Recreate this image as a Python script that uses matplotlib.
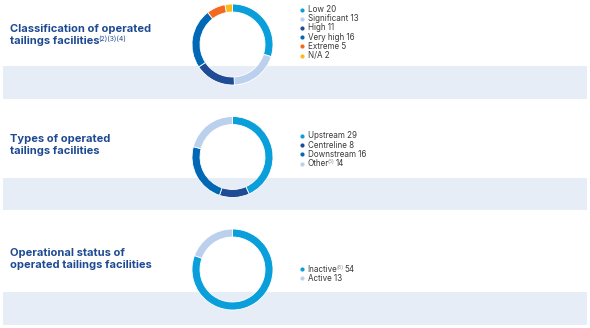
import matplotlib
matplotlib.use("Agg")
import matplotlib.pyplot as plt
from matplotlib.patches import Rectangle

plt.rcParams['font.family'] = ['Inter', 'DejaVu Sans']

W, H = 590, 328

# data
class_labels = ["Low", "Significant", "High", "Very high", "Extreme", "N/A"]
class_values = [20, 13, 11, 16, 5, 2]
class_notes = ["", "", "", "", "", ""]
class_colors = ["#0A9FDB", "#BBD0EC", "#1F4C94", "#0068B4", "#F2691F", "#FDBB17"]

type_labels = ["Upstream", "Centreline", "Downstream", "Other"]
type_values = [29, 8, 16, 14]
type_notes = ["", "", "", "(5)"]
type_colors = ["#0A9FDB", "#1F4C94", "#0068B4", "#BBD0EC"]

status_labels = ["Inactive", "Active"]
status_values = [54, 13]
status_notes = ["(6)", ""]
status_colors = ["#0A9FDB", "#BBD0EC"]

titles = [
    ["Classification of operated", "tailings facilities"],
    ["Types of operated", "tailings facilities"],
    ["Operational status of", "operated tailings facilities"],
]
title_notes = ["(2)(3)(4)", "", ""]

title_color = "#1E4A92"
band_color = "#E6EDF7"
text_color = "#3A3A3A"

fig = plt.figure(figsize=(W / 100, H / 100), dpi=100)
ax = fig.add_axes([0, 0, 1, 1])
ax.set_xlim(0, W)
ax.set_ylim(H, 0)
ax.axis("off")
renderer = fig.canvas.get_renderer()


def right_edge(t):
    bb = t.get_window_extent(renderer=renderer)
    return ax.transData.inverted().transform((bb.x1, bb.y0))[0]


# layout per row: band top/bottom, donut centre y, title y, legend first y
rows = [
    dict(band=(66, 99), cy=44.5, ty=28.5, ly=9.5),
    dict(band=(178, 210), cy=157, ty=139, ly=136),
    dict(band=(292, 325), cy=269.5, ty=253, ly=269),
]
datasets = [
    (class_labels, class_values, class_notes, class_colors),
    (type_labels, type_values, type_notes, type_colors),
    (status_labels, status_values, status_notes, status_colors),
]

cx, r, ring = 232.5, 40.5, 8
for row, (labels, values, notes, colors), title, tnote in zip(rows, datasets, titles, title_notes):
    b0, b1 = row["band"]
    ax.add_patch(Rectangle((3, b0), 584, b1 - b0, color=band_color, lw=0, zorder=0))

    cy = row["cy"]
    dax = fig.add_axes([(cx - r) / W, 1 - (cy + r) / H, 2 * r / W, 2 * r / H])
    dax.pie(values, colors=colors, startangle=90, counterclock=False,
            wedgeprops=dict(width=ring / r, edgecolor="white", linewidth=0.6))
    dax.set_xlim(-1, 1)
    dax.set_ylim(-1, 1)
    dax.set_aspect("auto")
    dax.axis("off")

    ty = row["ty"]
    ax.text(10, ty, title[0], fontsize=8.0, fontweight="bold", color=title_color,
            va="center", ha="left")
    t2 = ax.text(10, ty + 12.5, title[1], fontsize=8.0, fontweight="bold", color=title_color,
                 va="center", ha="left")
    if tnote:
        ax.text(right_edge(t2) - 1.5, ty + 9.8, tnote, fontsize=5.0, color=title_color,
                va="center", ha="left")

    ly = row["ly"]
    for i, (lab, val, note, col) in enumerate(zip(labels, values, notes, colors)):
        y = ly + i * 9.2
        ax.scatter([302], [y], s=9, color=col, lw=0, zorder=3)
        if note:
            t = ax.text(307.5, y, lab, fontsize=5.8, color=text_color, va="center", ha="left")
            n = ax.text(right_edge(t) - 1.2, y - 1.6, note, fontsize=3.8, color="#8A8A8A",
                        va="center", ha="left")
            ax.text(right_edge(n) + 1.2, y, str(val), fontsize=5.8, color=text_color,
                    va="center", ha="left")
        else:
            ax.text(307.5, y, f"{lab} {val}", fontsize=5.8, color=text_color,
                    va="center", ha="left")

fig.savefig("out.png", dpi=100)
